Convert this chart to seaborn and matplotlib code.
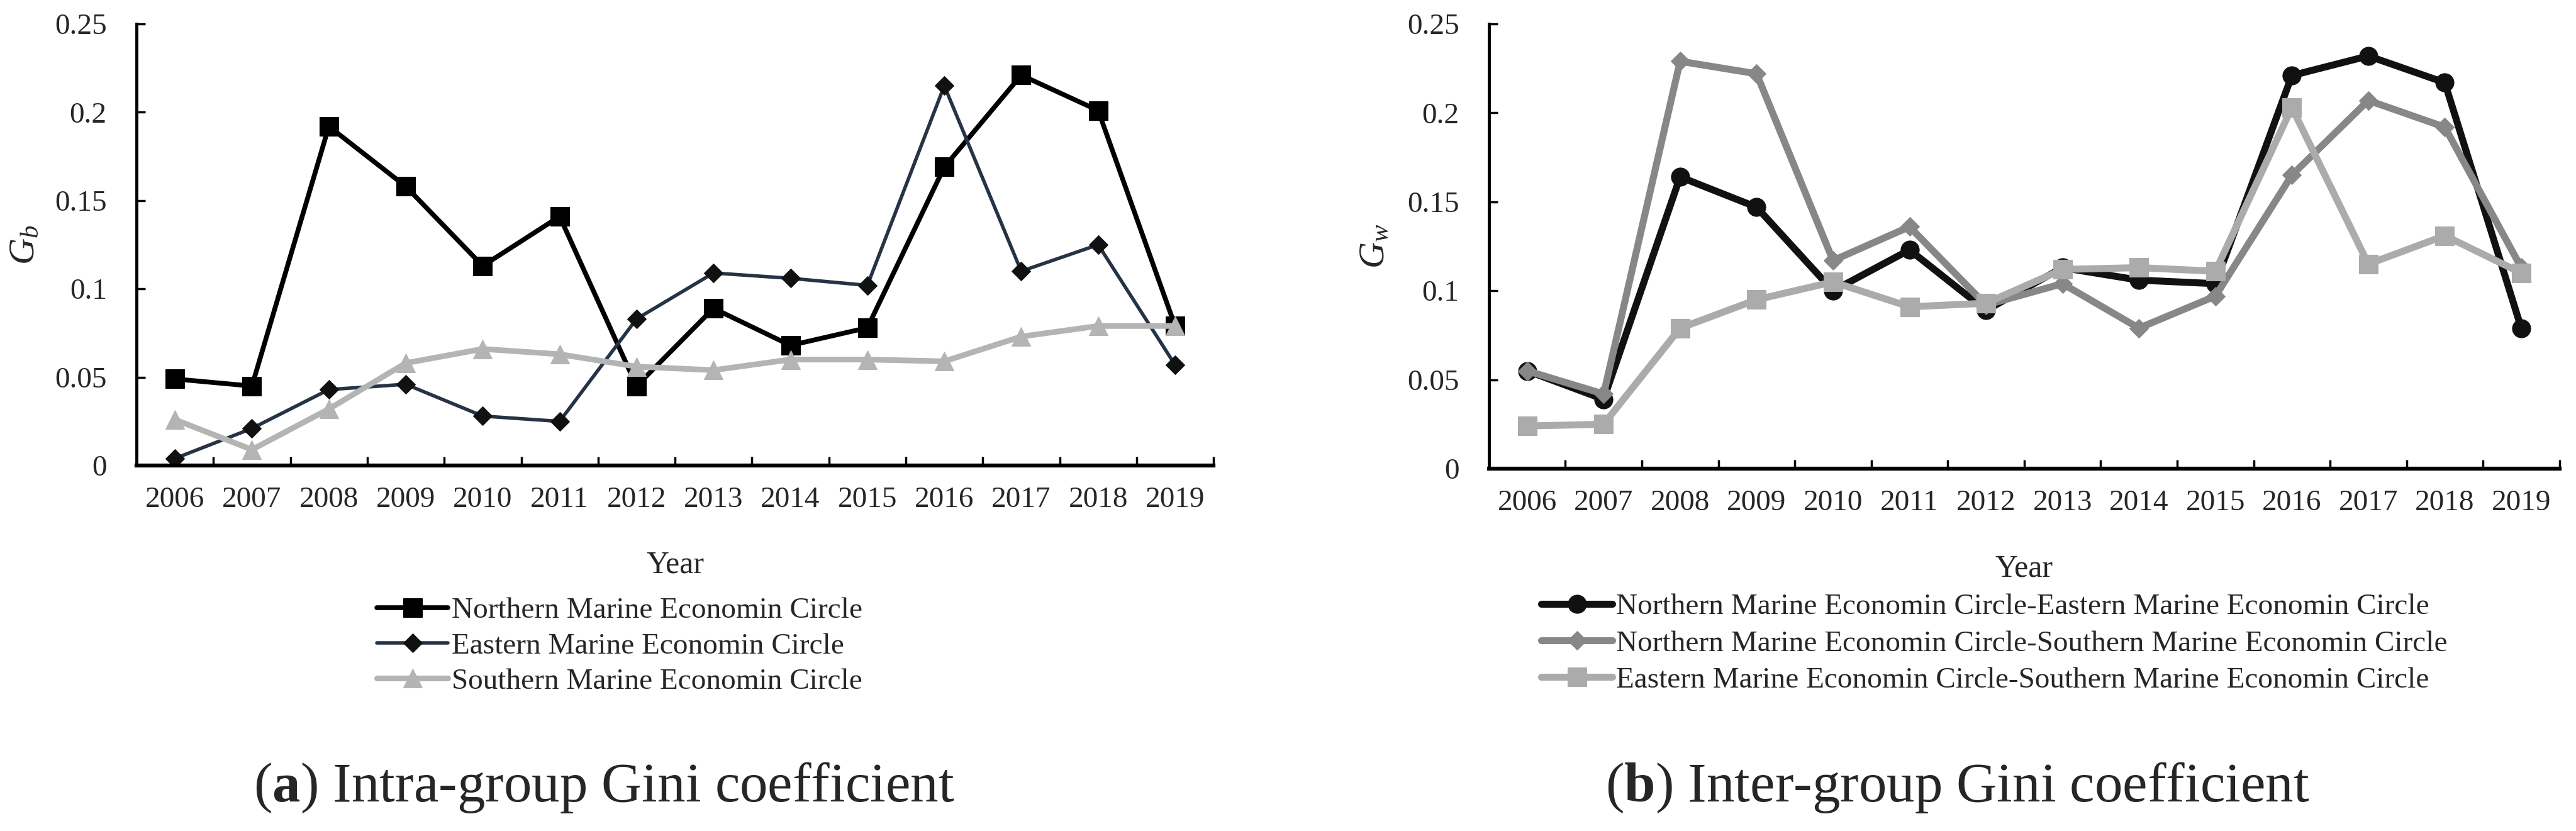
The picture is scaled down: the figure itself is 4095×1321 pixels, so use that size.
import numpy as np
import pandas as pd
import matplotlib
matplotlib.use("Agg")
import matplotlib.pyplot as plt
import seaborn as sns
from matplotlib.ticker import FixedLocator

years = ["2006", "2007", "2008", "2009", "2010", "2011", "2012",
         "2013", "2014", "2015", "2016", "2017", "2018", "2019"]

# (a) intra-group Gini coefficient
northern = [0.049, 0.045, 0.192, 0.158, 0.113, 0.141, 0.045,
            0.089, 0.068, 0.078, 0.169, 0.221, 0.201, 0.079]
eastern = [0.004, 0.021, 0.043, 0.046, 0.028, 0.025, 0.083,
           0.109, 0.106, 0.102, 0.215, 0.110, 0.125, 0.057]
southern = [0.026, 0.009, 0.032, 0.058, 0.066, 0.063, 0.056,
            0.054, 0.060, 0.060, 0.059, 0.073, 0.079, 0.079]

# (b) inter-group Gini coefficient
north_east = [0.055, 0.039, 0.164, 0.147, 0.100, 0.123, 0.089,
              0.113, 0.106, 0.104, 0.221, 0.232, 0.217, 0.079]
north_south = [0.055, 0.042, 0.229, 0.222, 0.117, 0.136, 0.092,
               0.104, 0.079, 0.097, 0.165, 0.207, 0.192, 0.113]
east_south = [0.024, 0.025, 0.079, 0.095, 0.105, 0.091, 0.093,
              0.112, 0.113, 0.111, 0.203, 0.115, 0.131, 0.110]

labels_a = ["Northern Marine Economin Circle",
            "Eastern Marine Economin Circle",
            "Southern Marine Economin Circle"]
labels_b = ["Northern Marine Economin Circle-Eastern Marine Economin Circle",
            "Northern Marine Economin Circle-Southern Marine Economin Circle",
            "Eastern Marine Economin Circle-Southern Marine Economin Circle"]

y_ticks = [0, 0.05, 0.1, 0.15, 0.2, 0.25]
y_tick_labels = ["0", "0.05", "0.1", "0.15", "0.2", "0.25"]

sns.set_style("white")
plt.rcParams["font.family"] = ["Liberation Serif", "DejaVu Serif"]
plt.rcParams["mathtext.fontset"] = "custom"
plt.rcParams["mathtext.rm"] = "Liberation Serif"
plt.rcParams["mathtext.it"] = "Liberation Serif:italic"
plt.rcParams["mathtext.bf"] = "Liberation Serif:bold"

FS = 34

fig = plt.figure(figsize=(40.95, 13.21), dpi=100)
ax1 = fig.add_axes([0.053, 0.4398, 0.4181, 0.5314])
ax2 = fig.add_axes([0.578, 0.4360, 0.4156, 0.5352])

df_a = pd.DataFrame({"Year": years, labels_a[0]: northern,
                     labels_a[1]: eastern, labels_a[2]: southern})
df_b = pd.DataFrame({"Year": years, labels_b[0]: north_east,
                     labels_b[1]: north_south, labels_b[2]: east_south})

styles_a = [
    dict(color="#000000", marker="s", markersize=21, linewidth=5.5,
         markerfacecolor="#000000", markeredgecolor="#000000"),
    dict(color="#253445", marker="D", markersize=15, linewidth=4.0,
         markerfacecolor="#111111", markeredgecolor="#111111"),
    dict(color="#b4b4b4", marker="^", markersize=21, linewidth=6.5,
         markerfacecolor="#b4b4b4", markeredgecolor="#b4b4b4"),
]
styles_b = [
    dict(color="#111111", marker="o", markersize=21, linewidth=8.0,
         markerfacecolor="#111111", markeredgecolor="#111111"),
    dict(color="#878787", marker="D", markersize=15, linewidth=8.0,
         markerfacecolor="#878787", markeredgecolor="#878787"),
    dict(color="#ababab", marker="s", markersize=21, linewidth=8.0,
         markerfacecolor="#ababab", markeredgecolor="#ababab"),
]

for lab, st in zip(labels_a, styles_a):
    sns.lineplot(data=df_a, x="Year", y=lab, ax=ax1, label=lab, **st)
for lab, st in zip(labels_b, styles_b):
    sns.lineplot(data=df_b, x="Year", y=lab, ax=ax2, label=lab, **st)


def style_axis(ax, ylab, ylab_x):
    n = len(years)
    ax.set_xlim(-0.5, n - 0.5)
    ax.set_ylim(0, 0.25)
    ax.set_xticks(range(n))
    ax.set_xticklabels(years)
    ax.xaxis.set_minor_locator(FixedLocator([i + 0.5 for i in range(n)]))
    ax.tick_params(axis="x", which="major", length=0, pad=24, labelsize=FS)
    ax.tick_params(axis="x", which="minor", direction="in", length=10,
                   width=2.5, color="black", bottom=True)
    ax.set_yticks(y_ticks)
    ax.set_yticklabels(y_tick_labels)
    ax.tick_params(axis="y", direction="in", length=10, width=2.5,
                   pad=34, labelsize=FS, left=True, color="black")
    for s in ["top", "right"]:
        ax.spines[s].set_visible(False)
    ax.spines["left"].set_linewidth(3.5)
    ax.spines["bottom"].set_linewidth(4.5)
    ax.spines["left"].set_color("black")
    ax.spines["bottom"].set_color("black")
    ax.set_xlabel("Year", fontsize=FS + 2)
    ax.xaxis.set_label_coords(0.5, -0.192)
    ax.set_ylabel(ylab, fontsize=42)
    ax.yaxis.set_label_coords(ylab_x, 0.5)
    ax.grid(False)
    ax.set_facecolor("white")


style_axis(ax1, r"$G_b$", -0.088)
style_axis(ax2, r"$G_w$", -0.091)

ax1.legend(loc="center left", bbox_to_anchor=(0.1463, 0.2225),
           bbox_transform=fig.transFigure, frameon=False, fontsize=FS,
           handlelength=2.4, handletextpad=0.12, labelspacing=0.28,
           borderpad=0, borderaxespad=0)
ax2.legend(loc="center left", bbox_to_anchor=(0.5983, 0.2256),
           bbox_transform=fig.transFigure, frameon=False, fontsize=FS,
           handlelength=2.4, handletextpad=0.12, labelspacing=0.32,
           borderpad=0, borderaxespad=0)

fig.text(0.2345, 0.0522, r"($\mathbf{a}$) Intra-group Gini coefficient",
         ha="center", va="center", fontsize=64)
fig.text(0.760, 0.0522, r"($\mathbf{b}$) Inter-group Gini coefficient",
         ha="center", va="center", fontsize=64)

fig.savefig("out.png", dpi=100, facecolor="white")
